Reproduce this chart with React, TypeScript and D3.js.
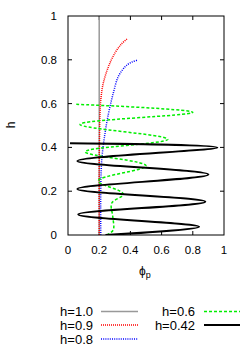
import React from 'react';
import * as d3 from 'd3';

type Pt = [number, number]; // [phi_p, h]

// h=1.0 : vertical line
const seriesH10: Pt[] = [[0.2, 0], [0.2, 1]];

// h=0.9
const seriesH09: Pt[] = [
  [0.2, 0], [0.2, 0.3], [0.202, 0.45], [0.205, 0.556], [0.212, 0.63],
  [0.226, 0.693], [0.26, 0.77], [0.3, 0.83], [0.34, 0.87], [0.378, 0.895],
];

// h=0.8
const seriesH08: Pt[] = [
  [0.21, 0], [0.21, 0.2], [0.216, 0.34], [0.237, 0.464], [0.26, 0.556],
  [0.29, 0.647], [0.32, 0.72], [0.35, 0.755], [0.376, 0.775], [0.41, 0.79], [0.444, 0.798],
];

// h=0.6 (turning points of the oscillation)
const seriesH06: Pt[] = [
  [0.248, 0], [0.29, 0.023], [0.287, 0.084], [0.28, 0.145], [0.355, 0.187],
  [0.194, 0.247], [0.5, 0.316], [0.11, 0.38], [0.64, 0.437], [0.077, 0.505],
  [0.8, 0.56], [0.045, 0.597],
];

// h=0.42 (turning points)
const seriesH042: Pt[] = [
  [0.24, 0], [0.84, 0.038], [0.066, 0.094], [0.88, 0.152], [0.06, 0.21],
  [0.9, 0.276], [0.06, 0.338], [0.957, 0.4], [0.013, 0.419],
];

const xTicks = [0, 0.2, 0.4, 0.6, 0.8, 1];
const yTicks = [0, 0.2, 0.4, 0.6, 0.8, 1];
const xTickLabels = ['0', '0.2', '0.4', '0.6', '0.8', '1'];
const yTickLabels = ['0', '0.2', '0.4', '0.6', '0.8', '1'];

const legendNames = ['h=1.0', 'h=0.9', 'h=0.8', 'h=0.6', 'h=0.42'];

const W = 249;
const H = 349;
const plot = { left: 68, right: 224, top: 16, bottom: 235 };
const font = '"Liberation Sans", Arial, sans-serif';

const App: React.FC = () => {
  const x = d3.scaleLinear().domain([0, 1]).range([plot.left, plot.right]);
  const y = d3.scaleLinear().domain([0, 1]).range([plot.bottom, plot.top]);

  const line = d3.line<Pt>()
    .x(d => x(d[0]))
    .y(d => y(d[1]))
    .curve(d3.curveCatmullRom.alpha(0.5));

  const series = [
    { data: seriesH10, color: '#999999', width: 1.5, dash: undefined, curve: false },
    { data: seriesH09, color: '#ff0000', width: 1.5, dash: '1,1', curve: true },
    { data: seriesH08, color: '#0000ff', width: 1.5, dash: '1,1.2', curve: true },
    { data: seriesH06, color: '#00ee00', width: 1.5, dash: '3,2', curve: true },
    { data: seriesH042, color: '#000000', width: 2, dash: undefined, curve: true },
  ];

  const straight = d3.line<Pt>().x(d => x(d[0])).y(d => y(d[1]));

  // legend placement: column 1 holds 3 entries, column 2 holds 2
  const legendRows = [311.5, 325, 339];
  const legendPos = [
    { tx: 93, lx1: 101, lx2: 138, y: legendRows[0] },
    { tx: 93, lx1: 101, lx2: 138, y: legendRows[1] },
    { tx: 93, lx1: 101, lx2: 138, y: legendRows[2] },
    { tx: 195, lx1: 204, lx2: 240, y: legendRows[0] },
    { tx: 195, lx1: 204, lx2: 240, y: legendRows[1] },
  ];

  return (
    <div style={{ position: 'absolute', left: 0, top: 0 }}>
      <svg width={W} height={H} style={{ display: 'block', background: '#fff' }}>
        <defs>
          <clipPath id="plotClip">
            <rect x={plot.left} y={plot.top} width={plot.right - plot.left} height={plot.bottom - plot.top} />
          </clipPath>
        </defs>

        {/* ticks, mirrored on all sides */}
        <g stroke="#000" strokeWidth={1}>
          {xTicks.slice(1, -1).map(t => (
            <g key={'xt' + t}>
              <line x1={x(t)} x2={x(t)} y1={plot.bottom} y2={plot.bottom - 4} />
              <line x1={x(t)} x2={x(t)} y1={plot.top} y2={plot.top + 4} />
            </g>
          ))}
          {yTicks.slice(1, -1).map(t => (
            <g key={'yt' + t}>
              <line x1={plot.left} x2={plot.left + 4} y1={y(t)} y2={y(t)} />
              <line x1={plot.right} x2={plot.right - 4} y1={y(t)} y2={y(t)} />
            </g>
          ))}
        </g>

        <g clipPath="url(#plotClip)" fill="none">
          {series.map((s, i) => (
            <path
              key={i}
              d={(s.curve ? line : straight)(s.data) || ''}
              stroke={s.color}
              strokeWidth={s.width}
              strokeDasharray={s.dash}
            />
          ))}
        </g>

        <rect
          x={plot.left}
          y={plot.top}
          width={plot.right - plot.left}
          height={plot.bottom - plot.top}
          fill="none"
          stroke="#000"
          strokeWidth={1}
        />

        <g fontFamily={font} fontSize={11.5} fill="#000">
          {xTicks.map((t, i) => (
            <text key={'xl' + t} x={x(t)} y={plot.bottom + 19} textAnchor="middle">{xTickLabels[i]}</text>
          ))}
          {yTicks.map((t, i) => (
            <text key={'yl' + t} x={plot.left - 11} y={y(t) + 4} textAnchor="end">{yTickLabels[i]}</text>
          ))}
        </g>

        <text x={15} y={125} fontFamily={font} fontSize={12} textAnchor="middle" transform="rotate(-90 15 125)">h</text>
        <text x={139} y={275} fontFamily={font} fontSize={12}>
          ϕ<tspan fontSize={9} dy={3}>p</tspan>
        </text>

        <g fontFamily={font} fontSize={13}>
          {legendNames.map((name, i) => {
            const p = legendPos[i];
            const s = series[i];
            return (
              <g key={name}>
                <text x={p.tx} y={p.y + 4.5} textAnchor="end">{name}</text>
                <line x1={p.lx1} x2={p.lx2} y1={p.y} y2={p.y} stroke={s.color} strokeWidth={s.width} strokeDasharray={s.dash} />
              </g>
            );
          })}
        </g>
      </svg>
    </div>
  );
};

export default App;
